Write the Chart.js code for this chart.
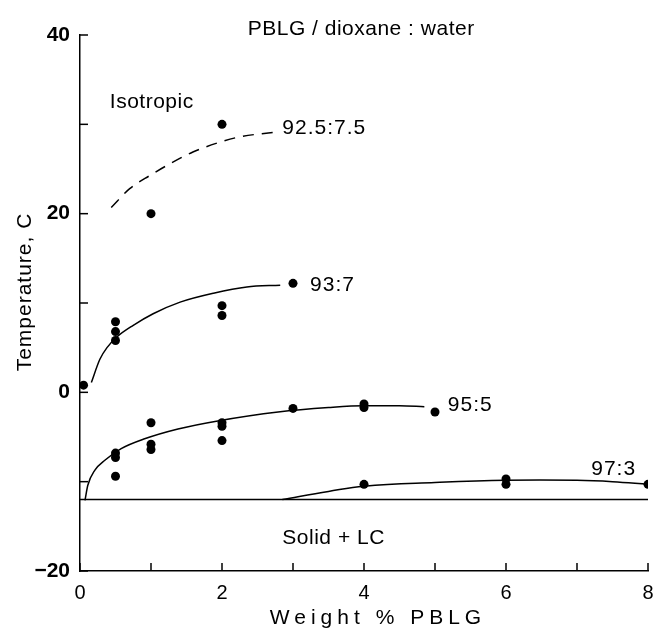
<!DOCTYPE html>
<html>
<head>
<meta charset="utf-8">
<script src="https://cdn.jsdelivr.net/npm/chart.js@4.4.1/dist/chart.umd.min.js"></script>
<style>
  html, body { margin: 0; padding: 0; background: #fff; }
  #wrap { width: 654px; height: 634px; }
</style>
</head>
<body>
<div id="wrap"><canvas id="fase"></canvas></div>
<script>
// Nombres de las series (dioxano : agua)
var serieNombres = ['92.5:7.5', '93:7', '95:5', '97:3'];

// Puntos medidos
var x925 = [1, 2];
var y925 = [20, 30];
var x93 = [0.05, 0.5, 0.5, 0.5, 2, 2, 3];
var y93 = [0.8, 7.9, 6.8, 5.8, 9.7, 8.6, 12.2];
var x95 = [0.5, 0.5, 0.5, 1, 1, 1, 2, 2, 2, 3, 4, 4, 5];
var y95 = [-6.8, -7.3, -9.4, -3.4, -5.8, -6.4, -3.4, -3.8, -5.4, -1.8, -1.3, -1.7, -2.2];
var x97 = [4, 6, 6, 8];
var y97 = [-10.3, -9.7, -10.3, -10.3];

// Curvas trazadas a mano
var curvaX925 = [0.44, 0.70, 0.99, 1.27, 1.59, 1.93, 2.25, 2.72];
var curvaY925 = [20.7, 22.8, 24.3, 25.6, 26.9, 27.9, 28.6, 29.1];
var curvaX93 = [0.16, 0.28, 0.38, 0.52, 0.75, 1.03, 1.41, 1.88, 2.35, 2.82];
var curvaY93 = [1.1, 3.7, 5.0, 6.2, 7.5, 8.8, 10.1, 11.1, 11.8, 12.0];
var curvaX95 = [0.07, 0.11, 0.21, 0.35, 0.58, 0.91, 1.38, 1.94, 2.79, 3.5, 4, 4.5, 4.85];
var curvaY95 = [-12.1, -10.4, -8.7, -7.6, -6.3, -5.2, -4.1, -3.2, -2.2, -1.7, -1.5, -1.5, -1.6];
var curvaX97 = [2.85, 3.5, 4, 5, 6, 7, 7.5, 8];
var curvaY97 = [-12, -11.1, -10.5, -10.1, -9.85, -9.85, -10, -10.3];

// Limite solido + LC
var solidoX = [0, 8];
var solidoY = [-12, -12];

// Marcas de los ejes
var xTicks = [0, 2, 4, 6, 8];
var yTicks = [-20, 0, 20, 40];

function pares(xs, ys) {
    return xs.map(function (x, i) { return { x: x, y: ys[i] }; });
}

function puntos(xs, ys) {
    return {
        data: pares(xs, ys),
        showLine: false,
        pointRadius: 4.5,
        pointBackgroundColor: '#000',
        pointBorderWidth: 0
    };
}

function curva(xs, ys, dash, monotona) {
    var ds = {
        data: pares(xs, ys),
        showLine: true,
        pointRadius: 0,
        borderColor: '#000',
        borderWidth: 1.5,
        borderDash: dash || [],
        tension: 0.4,
        fill: false
    };
    if (monotona) ds.cubicInterpolationMode = 'monotone';
    return ds;
}

var fuente = '"Liberation Sans", Arial, sans-serif';

// textos dentro del grafico (coordenadas en unidades de datos)
var notas = [
    { text: 'PBLG / dioxane : water', x: 3.96, y: 40.6, align: 'center' },
    { text: 'Isotropic', x: 0.42, y: 32.5, align: 'left' },
    { text: serieNombres[0], x: 2.85, y: 29.6, align: 'left', sp: 1 },
    { text: serieNombres[1], x: 3.24, y: 12.0, align: 'left', sp: 1 },
    { text: serieNombres[2], x: 5.18, y: -1.4, align: 'left', sp: 1 },
    { text: serieNombres[3], x: 7.2, y: -8.6, align: 'left', sp: 1 },
    { text: 'Solid + LC', x: 2.85, y: -16.3, align: 'left' }
];

var textos = {
    id: 'textos',
    afterDraw: function (chart) {
        var ctx = chart.ctx;
        var sx = chart.scales.x, sy = chart.scales.y;
        var area = chart.chartArea;
        ctx.save();
        // marcas hacia dentro
        ctx.strokeStyle = '#000';
        ctx.lineWidth = 1.5;
        sx.ticks.forEach(function (t) {
            var px = sx.getPixelForValue(t.value);
            ctx.beginPath();
            ctx.moveTo(px, area.bottom);
            ctx.lineTo(px, area.bottom - 8);
            ctx.stroke();
        });
        sy.ticks.forEach(function (t) {
            var py = sy.getPixelForValue(t.value);
            ctx.beginPath();
            ctx.moveTo(area.left, py);
            ctx.lineTo(area.left + 8, py);
            ctx.stroke();
        });

        ctx.fillStyle = '#000';
        ctx.textBaseline = 'middle';
        ctx.font = '21px ' + fuente;
        notas.forEach(function (n) {
            ctx.letterSpacing = (n.sp || 0.5) + 'px';
            ctx.textAlign = n.align;
            ctx.fillText(n.text, sx.getPixelForValue(n.x), sy.getPixelForValue(n.y));
        });

        // titulos de ejes
        ctx.letterSpacing = '5px';
        ctx.textAlign = 'center';
        ctx.fillText('Weight % PBLG', 378, 618);

        ctx.letterSpacing = '1px';
        ctx.translate(25, 292);
        ctx.rotate(-Math.PI / 2);
        ctx.fillText('Temperature, C', 0, 0);
        ctx.restore();
    }
};

var ctx = document.getElementById('fase').getContext('2d');

new Chart(ctx, {
    type: 'scatter',
    data: {
        datasets: [
            puntos(x925, y925),
            puntos(x93, y93),
            puntos(x95, y95),
            puntos(x97, y97),
            curva(curvaX925, curvaY925, [11, 8], true),
            curva(curvaX93, curvaY93, null, true),
            curva(curvaX95, curvaY95, null, true),
            curva(curvaX97, curvaY97),
            curva(solidoX, solidoY)
        ]
    },
    options: {
        responsive: true,
        maintainAspectRatio: false,
        animation: false,
        layout: { padding: { left: 0, top: 35, right: 6, bottom: 0 } },
        plugins: {
            legend: { display: false },
            tooltip: { enabled: false }
        },
        scales: {
            x: {
                type: 'linear',
                min: 0,
                max: 8,
                afterFit: function (s) {
                    s.height = 63;
                    s.paddingLeft = 0;
                    s.paddingRight = 0;
                },
                ticks: {
                    stepSize: 1,
                    padding: 10,
                    color: '#000',
                    font: { family: fuente, size: 20 },
                    callback: function (v) { return xTicks.indexOf(v) >= 0 ? String(v) : ''; }
                },
                grid: { drawOnChartArea: false, drawTicks: false },
                border: { color: '#000', width: 1.5 }
            },
            y: {
                type: 'linear',
                min: -20,
                max: 40,
                afterFit: function (s) {
                    s.width = 80;
                    s.paddingTop = 0;
                    s.paddingBottom = 0;
                },
                ticks: {
                    stepSize: 10,
                    padding: 10,
                    color: '#000',
                    font: { family: fuente, size: 21, weight: 'bold' },
                    callback: function (v) {
                        if (yTicks.indexOf(v) < 0) return '';
                        return v < 0 ? '\u2212' + Math.abs(v) : String(v);
                    }
                },
                grid: { drawOnChartArea: false, drawTicks: false },
                border: { color: '#000', width: 1.5 }
            }
        }
    },
    plugins: [textos]
});
</script>
</body>
</html>
